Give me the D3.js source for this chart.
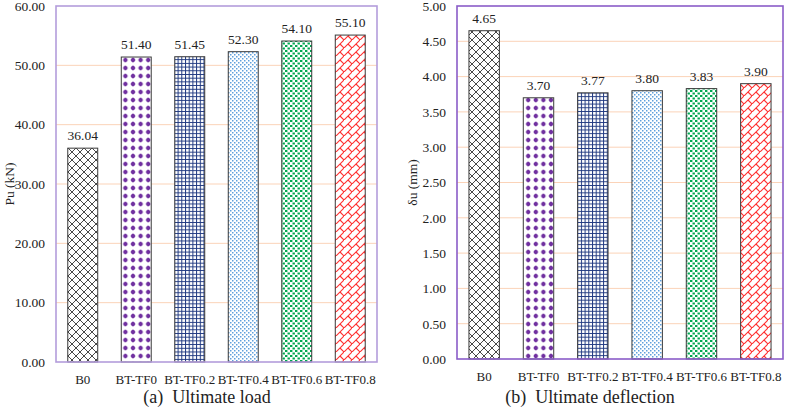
<!DOCTYPE html>
<meta charset="utf-8">
<style>
  body { margin: 0; background: #fff; }
  text { font-family: "Liberation Serif", "Times New Roman", serif; fill: #222; }
</style>
<script src="https://d3js.org/d3.v7.min.js"></script>
<svg id="chart" width="788" height="408"></svg>
<script>
// data
var categories = ["B0", "BT-TF0", "BT-TF0.2", "BT-TF0.4", "BT-TF0.6", "BT-TF0.8"];
var loadValues = [36.04, 51.40, 51.45, 52.30, 54.10, 55.10];
var deflValues = [4.65, 3.70, 3.77, 3.80, 3.83, 3.90];
var loadTicks = [0, 10, 20, 30, 40, 50, 60];
var deflTicks = [0, 0.5, 1, 1.5, 2, 2.5, 3, 3.5, 4, 4.5, 5];
var patternIds = ["pB0", "pTF0", "pTF02", "pTF04", "pTF06", "pTF08"];

var svg = d3.select("#chart");
svg.append("rect").attr("width", 788).attr("height", 408).attr("fill", "#fff");

// fill patterns
var defs = svg.append("defs");
function pattern(id, w, h) {
  var p = defs.append("pattern").attr("id", id)
    .attr("patternUnits", "userSpaceOnUse").attr("width", w).attr("height", h);
  p.append("rect").attr("width", w).attr("height", h).attr("fill", "#fff");
  return p;
}
// B0 : black diamond lattice
var p = pattern("pB0", 8, 8);
p.append("path").attr("d", "M-1,-1L9,9M-1,9L9,-1").attr("stroke", "#333").attr("stroke-width", 0.9);
// BT-TF0 : purple dots
p = pattern("pTF0", 7.6, 8);
p.append("path").attr("d", "M3.8,1.2L6.3,4L3.8,6.8L1.3,4Z").attr("fill", "#7030a0");
p.append("circle").attr("cx", 3.8).attr("cy", 4).attr("r", 2).attr("fill", "#7030a0");
// BT-TF0.2 : navy small grid
p = pattern("pTF02", 3.7, 3.7);
p.append("path").attr("d", "M0.5,0V3.7M0,0.5H3.7").attr("stroke", "#1f3880").attr("stroke-width", 1);
// BT-TF0.4 : light blue dots
p = pattern("pTF04", 4, 4);
p.append("rect").attr("x", 0).attr("y", 0).attr("width", 1.5).attr("height", 1.5).attr("fill", "#5fa0dc");
p.append("rect").attr("x", 2).attr("y", 2).attr("width", 1.5).attr("height", 1.5).attr("fill", "#5fa0dc");
// BT-TF0.6 : green confetti
p = pattern("pTF06", 5, 5);
p.append("rect").attr("x", 0).attr("y", 0).attr("width", 2.4).attr("height", 2).attr("fill", "#00a650");
p.append("rect").attr("x", 2.5).attr("y", 2.5).attr("width", 2.4).attr("height", 2).attr("fill", "#00a650");
// BT-TF0.8 : red diagonal brick
p = pattern("pTF08", 8, 8);
p.append("path").attr("d", "M-1,9L9,-1M4,4L8.5,8.5").attr("stroke", "#ff3030").attr("stroke-width", 1.1);

function drawPanel(cfg) {
  var g = svg.append("g");
  var x = d3.scaleBand().domain(categories)
    .range([cfg.left, cfg.right]).paddingInner(0.44).paddingOuter(0.22);
  var y = d3.scaleLinear().domain([0, cfg.max]).range([cfg.bottom, cfg.top]);

  // gridlines
  g.selectAll(".grid").data(cfg.ticks.filter(function(t) { return t > 0 && t < cfg.max; }))
    .enter().append("line")
    .attr("x1", cfg.left).attr("x2", cfg.right)
    .attr("y1", function(d) { return y(d); }).attr("y2", function(d) { return y(d); })
    .attr("stroke", "#fbd3b8").attr("stroke-width", 1);

  // bars
  g.selectAll(".bar").data(cfg.values).enter().append("rect")
    .attr("x", function(d, i) { return x(categories[i]); })
    .attr("y", function(d) { return y(d); })
    .attr("width", x.bandwidth())
    .attr("height", function(d) { return y(0) - y(d); })
    .attr("fill", function(d, i) { return "url(#" + patternIds[i] + ")"; })
    .attr("stroke", "#3a3a3a").attr("stroke-width", 1);

  // value labels
  g.selectAll(".val").data(cfg.values).enter().append("text")
    .attr("x", function(d, i) { return x(categories[i]) + x.bandwidth() / 2; })
    .attr("y", function(d) { return y(d) - 8; })
    .attr("text-anchor", "middle").style("font-size", "13.5px")
    .text(function(d) { return d3.format(".2f")(d); });

  // frame
  g.append("rect").attr("x", cfg.left).attr("y", cfg.top)
    .attr("width", cfg.right - cfg.left).attr("height", cfg.bottom - cfg.top)
    .attr("fill", "none").attr("stroke", cfg.frame).attr("stroke-width", 1.6);

  // y axis
  var ya = g.append("g").attr("transform", "translate(" + cfg.left + ",0)")
    .call(d3.axisLeft(y).tickValues(cfg.ticks).tickFormat(d3.format(".2f")).tickSize(0).tickPadding(11));
  ya.select(".domain").remove();
  ya.selectAll("text").style("font-size", "13.5px").style("font-family", null).attr("fill", "#222");

  // x axis labels
  var xa = g.append("g").attr("transform", "translate(0," + cfg.bottom + ")")
    .call(d3.axisBottom(x).tickSize(0).tickPadding(13));
  xa.select(".domain").remove();
  xa.selectAll("text").style("font-size", "13px").style("font-family", null).attr("fill", "#222");

  // y title
  g.append("text")
    .attr("transform", "translate(" + cfg.titleX + "," + (cfg.top + cfg.bottom) / 2 + ") rotate(-90)")
    .attr("text-anchor", "middle").style("font-size", "13.5px")
    .text(cfg.title);

  // caption
  g.append("text").attr("x", cfg.capX).attr("y", 403)
    .attr("text-anchor", "middle").style("font-size", "18px").style("white-space", "pre")
    .text(cfg.caption);
}

drawPanel({
  values: loadValues, ticks: loadTicks, max: 60,
  left: 56, right: 377, top: 6, bottom: 362,
  frame: "#b39ddb", title: "Pu (kN)", titleX: 14,
  caption: "(a)  Ultimate load", capX: 207
});

drawPanel({
  values: deflValues, ticks: deflTicks, max: 5,
  left: 457, right: 783, top: 6, bottom: 359,
  frame: "#8a5cc8", title: "δu (mm)", titleX: 417,
  caption: "(b)  Ultimate deflection", capX: 590
});
</script>
